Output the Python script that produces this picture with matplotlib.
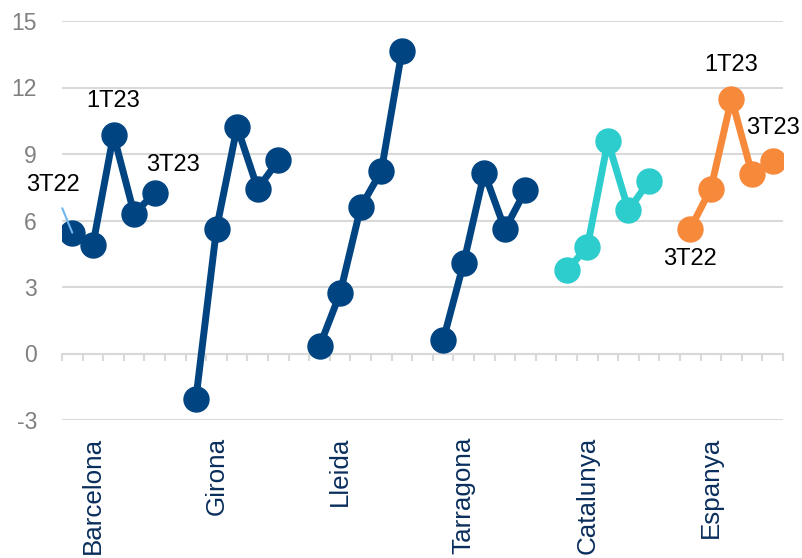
import matplotlib
matplotlib.use("Agg")
import matplotlib.pyplot as plt
import numpy as np

plt.rcParams['font.family'] = ['Liberation Sans', 'DejaVu Sans']
plt.rcParams['axes.unicode_minus'] = False

# Data
regions = ["Barcelona", "Girona", "Lleida", "Tarragona", "Catalunya", "Espanya"]
quarters = ["3T22", "4T22", "1T23", "2T23", "3T23"]
barcelona = [5.45, 4.9, 9.87, 6.31, 7.24]
girona = [-2.05, 5.63, 10.22, 7.43, 8.71]
lleida = [0.32, 2.72, 6.6, 8.23, 13.63]
tarragona = [0.59, 4.09, 8.16, 5.6, 7.36]
catalunya = [3.75, 4.8, 9.57, 6.46, 7.78]
espanya = [5.63, 7.44, 11.5, 8.08, 8.68]
series = [barcelona, girona, lleida, tarragona, catalunya, espanya]
y_ticks = [-3, 0, 3, 6, 9, 12, 15]

NAVY = "#004481"
AQUA = "#2DCCCD"
CORAL = "#F7893B"
colors = [NAVY, NAVY, NAVY, NAVY, AQUA, CORAL]
GRID = "#D9D9D9"

fig = plt.figure(figsize=(8.02, 5.58), dpi=100)
ax = fig.add_axes([62 / 802, 1 - 420 / 558, (783 - 62) / 802, (420 - 21) / 558])

# each group takes 5 slots, followed by one empty slot
step = len(quarters) + 1
n_slots = len(regions) * step - 1
for g, (vals, col) in enumerate(zip(series, colors)):
    xs = g * step + np.arange(len(quarters))
    ax.plot(xs, vals, color=col, lw=5, marker="o", ms=18,
            solid_capstyle="round", zorder=3)

ax.set_xlim(-0.5, n_slots - 0.5)
ax.set_ylim(-3, 15)
ax.set_yticks(y_ticks)
ax.grid(axis="y", color=GRID, lw=1.5, zorder=0)
ax.set_axisbelow(True)

for s in ["top", "right", "left"]:
    ax.spines[s].set_visible(False)
ax.spines["bottom"].set_position(("data", 0))
ax.spines["bottom"].set_color(GRID)
ax.spines["bottom"].set_linewidth(1.5)

ax.tick_params(axis="y", length=0, pad=18, labelsize=16.5, labelcolor="#808080")
ax.set_xticks([g * step + 1 for g in range(len(regions))])
ax.set_xticklabels(regions, rotation=90, va="top", ha="center")
ax.set_xticks(np.arange(-0.5, n_slots, 1.0), minor=True)
ax.tick_params(axis="x", which="major", length=0, pad=60, labelsize=18.7,
               labelcolor="#0A2E5C")
ax.tick_params(axis="x", which="minor", length=5, width=1.5, color=GRID,
               direction="out")

# data labels
lab = dict(fontsize=17, color="black", ha="center", va="center",
           textcoords="offset points", zorder=5)
ax.annotate(quarters[0], xy=(0, barcelona[0]), xytext=(-14, 34),
            arrowprops=dict(arrowstyle="-", color="#6FB6F2", lw=1.5,
                            shrinkA=7, shrinkB=0), **lab)
ax.annotate(quarters[2], xy=(2, barcelona[2]), xytext=(0, 24.5), **lab)
ax.annotate(quarters[4], xy=(4, barcelona[4]), xytext=(13.5, 20), **lab)
e0 = 5 * step
ax.annotate(quarters[0], xy=(e0, espanya[0]), xytext=(0, -21.5), **lab)
ax.annotate(quarters[2], xy=(e0 + 2, espanya[2]), xytext=(0, 24), **lab)
ax.annotate(quarters[4], xy=(e0 + 4, espanya[4]), xytext=(0, 24), **lab)

fig.savefig("out.png", dpi=100)
